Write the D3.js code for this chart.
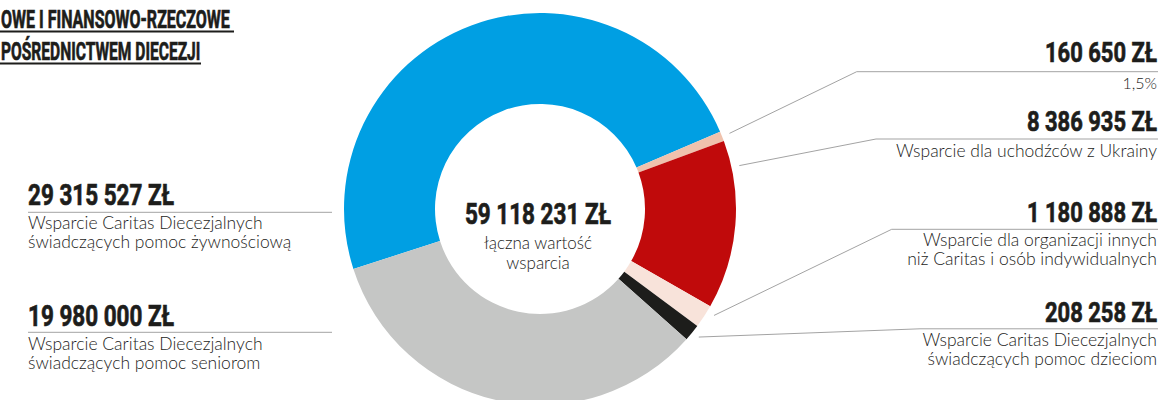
<!DOCTYPE html>
<html>
<head>
<meta charset="utf-8">
<script src="https://cdn.jsdelivr.net/npm/d3@7/dist/d3.min.js"></script>
<style>
  html, body { margin: 0; padding: 0; background: #ffffff; }
  svg { display: block; }
  .big { font-family: Roboto, "DejaVu Sans Condensed", sans-serif; font-weight: 700; fill: #1d1d1b; stroke: #1d1d1b; stroke-width: 0.7px; }
  .desc { font-family: Lato, "Open Sans", sans-serif; font-weight: 300; fill: #1d1d1b; }
</style>
</head>
<body>
<svg id="chart" width="1158" height="400"></svg>
<script>
// ---------- data ----------
const titleLines = ["OWE I FINANSOWO-RZECZOWE", "POŚREDNICTWEM DIECEZJI"];
const amounts = [29315527, 160650, 8386935, 1180888, 208258, 19980000];
// share of the ring each slice occupies in the picture (percent)
const arcShare = [48.49, 0.82, 13.89, 1.92, 1.39, 33.49];
const descriptions = [
  ["Wsparcie Caritas Diecezjalnych", "świadczących pomoc żywnościową"],
  ["1,5%"],
  ["Wsparcie dla uchodźców z Ukrainy"],
  ["Wsparcie dla organizacji innych", "niż Caritas i osób indywidualnych"],
  ["Wsparcie Caritas Diecezjalnych", "świadczących pomoc dzieciom"],
  ["Wsparcie Caritas Diecezjalnych", "świadczących pomoc seniorom"]
];
const totalValue = 59118231;
const totalCaption = ["łączna wartość", "wsparcia"];
const currency = "ZŁ";

// ---------- styling ----------
const palette = ["#009fe3", "#efc2ad", "#c00a0b", "#f8e3da", "#1d1d1b", "#c5c6c5"];

const svg = d3.select("#chart");
const cx = 540, cy = 209, R = 196, r0 = 105;
const deg = Math.PI / 180;
const startA = 252.2 * deg;

const fmtLocale = d3.formatLocale({ decimal: ",", thousands: "\u00a0", grouping: [3], currency: ["", ""] });
const fmt = v => fmtLocale.format(",d")(v).replace(/\u00a0/g, " ") + " " + currency;

const color = d3.scaleOrdinal().domain(d3.range(amounts.length)).range(palette);
const pie = d3.pie().sort(null).value(i => arcShare[i]).startAngle(startA).endAngle(startA + 2 * Math.PI);
const arcs = pie(d3.range(amounts.length));
const arcGen = d3.arc().innerRadius(r0).outerRadius(R);

const g = svg.append("g").attr("transform", `translate(${cx},${cy})`);
g.selectAll("path.slice").data(arcs).join("path")
  .attr("class", "slice")
  .attr("d", arcGen)
  .attr("fill", d => color(d.data));

// condensed bold numbers (horizontally squeezed)
const bigScale = 0.75;
function bigText(parent, x, y, txt, anchor, size, sx) {
  const gg = parent.append("g").attr("transform", `translate(${x},${y}) scale(${sx || bigScale},1)`);
  return gg.append("text").attr("class", "big").attr("text-anchor", anchor)
    .attr("font-size", size).text(txt);
}
bigText(svg, 538, 223.5, fmt(totalValue), "middle", 30);
svg.selectAll("text.cap").data(totalCaption).join("text")
  .attr("class", "desc cap")
  .attr("x", 538).attr("y", (d, i) => 249 + i * 19.5)
  .attr("text-anchor", "middle").attr("font-size", 17).text(d => d);

// label layout (index -> placement)
const layout = [
  { side: "L", base: 205, line: 212.3, d0: 228.5 },
  { side: "R", base: 61.7, line: 71.7, d0: 89, bend: 856.7, frac: 0.5 },
  { side: "R", base: 131, line: 139, d0: 157, bend: 876, frac: 0.16 },
  { side: "R", base: 221.7, line: 229.3, d0: 245.5, bend: 891.7, frac: 0.25 },
  { side: "R", base: 321.7, line: 328.8, d0: 345.5, bend: 920, frac: 0.45 },
  { side: "L", base: 326, line: 332.3, d0: 349.5 }
];
const leftX = 28, leftLineEnd = 332, rightX = 1157, rightLineEnd = 1158;
const lineColor = "#a3a3a3";
const descSize = 17.5, descGap = 19.5;

layout.forEach((L, i) => {
  const a = arcs[i];
  if (L.side === "L") {
    bigText(svg, leftX, L.base, fmt(amounts[i]), "start", 30);
    svg.append("line").attr("x1", leftX).attr("x2", leftLineEnd)
      .attr("y1", L.line).attr("y2", L.line)
      .attr("stroke", lineColor).attr("stroke-width", 1);
    descriptions[i].forEach((t, k) => {
      svg.append("text").attr("class", "desc").attr("x", leftX).attr("y", L.d0 + k * descGap)
        .attr("font-size", descSize).text(t);
    });
  } else {
    bigText(svg, rightX, L.base, fmt(amounts[i]), "end", 28.5, 0.77);
    const ang = a.startAngle + L.frac * (a.endAngle - a.startAngle);
    const rr = R + 8;
    const px = cx + rr * Math.sin(ang), py = cy - rr * Math.cos(ang);
    svg.append("polyline")
      .attr("points", `${px},${py} ${L.bend},${L.line} ${rightLineEnd},${L.line}`)
      .attr("fill", "none").attr("stroke", lineColor).attr("stroke-width", 1);
    descriptions[i].forEach((t, k) => {
      svg.append("text").attr("class", "desc").attr("x", rightX).attr("y", L.d0 + k * descGap)
        .attr("text-anchor", "end").attr("font-size", i === 1 ? 16 : descSize).text(t);
    });
  }
});

// title (runs into the left edge in the reference): squeeze to fit
const titleEnds = [230, 200.5];
const titleBase = [28, 60];
titleLines.forEach((t, i) => {
  const gg = svg.append("g");
  const tx = gg.append("text").attr("class", "big").attr("text-anchor", "start")
    .attr("font-size", 25.5).text(t);
  const w = tx.node().getComputedTextLength();
  const sx = (titleEnds[i] - 1) / w;
  gg.attr("transform", `translate(1,${titleBase[i]}) scale(${sx},1)`);
  svg.append("line").attr("x1", 0).attr("x2", titleEnds[i] + (i === 0 ? 4 : 0.5))
    .attr("y1", titleBase[i] + 3.5).attr("y2", titleBase[i] + 3.5)
    .attr("stroke", "#1d1d1b").attr("stroke-width", 2);
});
</script>
</body>
</html>
